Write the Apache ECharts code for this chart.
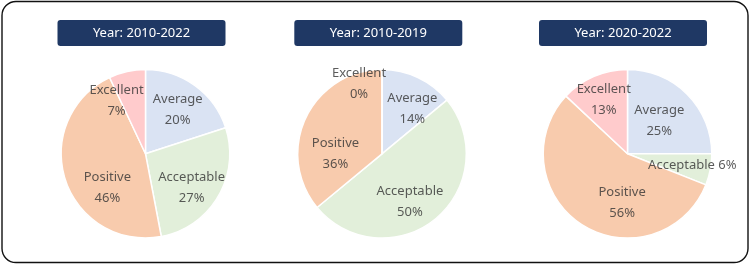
<!DOCTYPE html>
<html>
<head>
<meta charset="utf-8">
<script src="https://cdn.jsdelivr.net/npm/echarts@6/dist/echarts.min.js"></script>
<style>
html,body{margin:0;padding:0;background:#fff;}
#c{width:750px;height:265px;}
</style>
</head>
<body>
<div id="c"></div>
<script>
var categories = ['Average', 'Acceptable', 'Positive', 'Excellent'];
var periods = ['Year: 2010-2022', 'Year: 2010-2019', 'Year: 2020-2022'];
var values2010_2022 = [20, 27, 46, 7];
var values2010_2019 = [14, 50, 36, 0];
var values2020_2022 = [25, 6, 56, 13];
var allValues = [values2010_2022, values2010_2019, values2020_2022];

// styling / layout (not data)
var colors = ['#dae3f3', '#e2efda', '#f8cbad', '#ffcbcc'];
var centers = [[145.5, 153.8], [382, 153.8], [627.5, 153.8]];
var titleCenters = [141.5, 378.3, 623];
var R = 84.3;
var labelRadius = 0.65;          // fraction of the pie radius
var labelNudge = [               // best-fit style label offsets, px
  [[0, 0], [-1, 6], [14, 17], [-17, 0]],
  [[7, 5], [-7, 6], [3, 23], [-23, -15]],
  [[-7, 6], [11, 1], [24, 3], [-2, -4]]
];
var font = '"Noto Sans", "Open Sans", sans-serif';

var chart = echarts.init(document.getElementById('c'), null, {renderer: 'canvas'});

var series = [], polar = [], angleAxis = [], radiusAxis = [];
var graphics = [{
  type: 'rect',
  shape: {x: 2, y: 1.5, width: 746, height: 261, r: 14},
  style: {fill: 'none', stroke: '#111', lineWidth: 1.4},
  z: 0
}];

allValues.forEach(function (vals, i) {
  var total = vals.reduce(function (a, b) { return a + b; }, 0);
  series.push({
    type: 'pie',
    center: centers[i],
    radius: [0, R],
    startAngle: 90,
    clockwise: true,
    silent: true,
    label: {show: false},
    labelLine: {show: false},
    itemStyle: {borderColor: '#fff', borderWidth: 1.5},
    data: categories.map(function (c, k) {
      return {name: c, value: vals[k], itemStyle: {color: colors[k]}};
    }),
    z: 2
  });

  polar.push({center: centers[i], radius: R});
  angleAxis.push({polarIndex: i, type: 'value', min: 0, max: total, startAngle: 90, clockwise: true, show: false});
  radiusAxis.push({polarIndex: i, type: 'value', min: 0, max: 1, show: false});

  var cum = 0;
  var pts = categories.map(function (c, k) {
    var mid = cum + vals[k] / 2;
    cum += vals[k];
    var oneLine = (i === 2 && k === 1);
    return {
      name: c,
      value: [labelRadius, mid, vals[k]],
      label: {
        formatter: oneLine ? c + ' ' + vals[k] + '%' : c + '\n' + vals[k] + '%',
        offset: labelNudge[i][k]
      }
    };
  });
  series.push({
    type: 'scatter',
    coordinateSystem: 'polar',
    polarIndex: i,
    symbolSize: 0,
    silent: true,
    label: {
      show: true,
      position: 'inside',
      color: '#333333',
      fontSize: 13,
      lineHeight: 21,
      fontFamily: font
    },
    data: pts,
    z: 4
  });

  graphics.push({
    type: 'rect',
    shape: {x: titleCenters[i] - 84, y: 20, width: 168, height: 26, r: 3},
    style: {fill: '#1f3864'},
    z: 5
  });
  graphics.push({
    type: 'text',
    x: titleCenters[i],
    y: 33,
    style: {
      text: periods[i],
      fill: '#fff',
      fontSize: 13,
      fontFamily: font,
      align: 'center',
      verticalAlign: 'middle'
    },
    z: 6
  });
});

chart.setOption({
  animation: false,
  backgroundColor: '#fff',
  polar: polar,
  angleAxis: angleAxis,
  radiusAxis: radiusAxis,
  graphic: graphics,
  series: series
});
</script>
</body>
</html>
